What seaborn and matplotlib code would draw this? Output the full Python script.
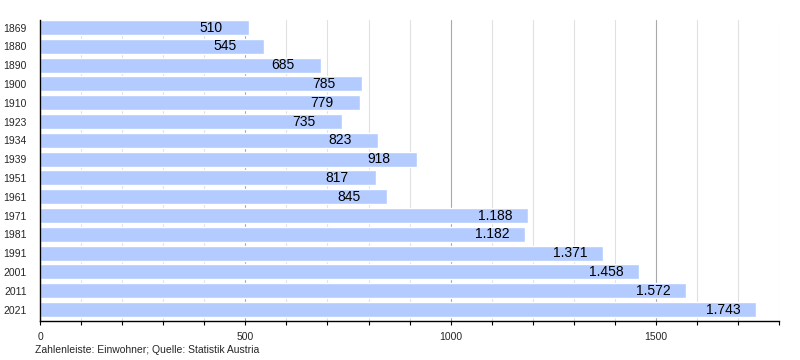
import pandas as pd
import matplotlib.pyplot as plt
import seaborn as sns
from matplotlib.ticker import MultipleLocator

years = ['1869', '1880', '1890', '1900', '1910', '1923', '1934', '1939',
         '1951', '1961', '1971', '1981', '1991', '2001', '2011', '2021']
population = [510, 545, 685, 785, 779, 735, 823, 918,
              817, 845, 1188, 1182, 1371, 1458, 1572, 1743]

df = pd.DataFrame({'Jahr': years, 'Einwohner': population})

sns.set_style('white')
plt.rcParams['font.family'] = ['Liberation Sans', 'DejaVu Sans']

fig = plt.figure(figsize=(8, 3.6), dpi=100)
ax = fig.add_axes([0.05, 0.1097, 0.924, 0.8347])

sns.barplot(data=df, x='Einwohner', y='Jahr', orient='h', color='#b3cbff',
            saturation=1, width=0.8, ax=ax, zorder=2)

ax.set_xlim(0, 1800)
ax.set_ylim(15.585, -0.4)
ax.xaxis.set_major_locator(MultipleLocator(500))
ax.xaxis.set_minor_locator(MultipleLocator(100))
ax.grid(axis='x', which='major', color='#a8a8a8', linewidth=0.8, zorder=0)
ax.grid(axis='x', which='minor', color='#e0e0e0', linewidth=0.8, zorder=0)
ax.set_axisbelow(True)

for s in ['top', 'right']:
    ax.spines[s].set_visible(False)
for s in ['left', 'bottom']:
    ax.spines[s].set_color('black')
    ax.spines[s].set_linewidth(1)

ax.tick_params(axis='x', which='both', bottom=True, length=3, width=0.8,
               color='black', labelsize=7.5, pad=5)
ax.tick_params(axis='y', left=False, labelsize=7.5, pad=6)
ax.set_xlabel('')
ax.set_ylabel('')

for i, v in enumerate(population):
    label = f'{v:,}'.replace(',', '.')
    ax.annotate(label, xy=(v, i), xytext=(-36, 0), textcoords='offset points',
                ha='left', va='center', fontsize=10, color='black', zorder=3)

fig.text(35 / 800, 1 - 350 / 360, 'Zahlenleiste: Einwohner; Quelle: Statistik Austria',
         fontsize=7.5, ha='left', va='center')

fig.savefig('out.png', dpi=100)
